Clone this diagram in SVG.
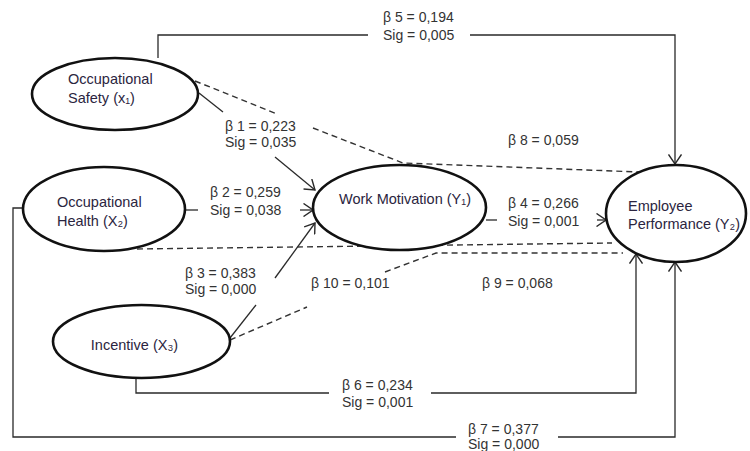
<svg xmlns="http://www.w3.org/2000/svg" width="750" height="451" viewBox="0 0 750 451">
<style>
.c{fill:none;stroke:#2a2a2a;stroke-width:1.3}
.d{fill:none;stroke:#333;stroke-width:1.4;stroke-dasharray:6,4}
.n{fill:#fff;stroke:#111;stroke-width:2.6}
.t{font-family:"Liberation Sans",Arial,sans-serif;font-size:14.5px;fill:#2b2540}
.l{font-family:"Liberation Sans",Arial,sans-serif;font-size:14px;fill:#333}
</style>
<defs>
<marker id="a" markerUnits="userSpaceOnUse" viewBox="0 0 11 14" refX="10" refY="7" markerWidth="11" markerHeight="14" orient="auto">
<path d="M0.5,0.5 L10,7 L0.5,13.5" fill="none" stroke="#2a2a2a" stroke-width="1.4"/>
</marker>
</defs>
<g id="connectors">
<path class="c" d="M158,58 V35 H368"/>
<path class="c" d="M470,35 H675 V164" marker-end="url(#a)"/>
<path class="c" d="M23,208 H13 V437 H456"/>
<path class="c" d="M558,437 H675 V262" marker-end="url(#a)"/>
<path class="c" d="M136,378 V393 H329"/>
<path class="c" d="M431,393 H636 V254" marker-end="url(#a)"/>
<path class="c" d="M486,220 H497"/>
<path class="c" d="M597,220 H606" marker-end="url(#a)"/>
<path class="c" d="M185,210 H198"/>
<path class="c" d="M300,210 H313" marker-end="url(#a)"/>
<path class="c" d="M199,93 L223,112"/>
<path class="c" d="M275,157 L315,190" marker-end="url(#a)"/>
<path class="c" d="M230,338 L256,305"/>
<path class="c" d="M275,278 L315,223" marker-end="url(#a)"/>
<path class="d" d="M195,81 L277,114"/>
<path class="d" d="M313,128 L403,163 L640,172"/>
<path class="d" d="M137,249 L612,243"/>
<path class="d" d="M230,340 L307,307"/>
<path class="d" d="M385,272 L436,253 L623,253"/>
</g>
<g id="safety">
<ellipse class="n" cx="115" cy="94" rx="83" ry="36"/>
<text class="t" x="68" y="84">Occupational</text>
<text class="t" x="68" y="103">Safety (x₁)</text>
</g>
<g id="health">
<ellipse class="n" cx="104" cy="209" rx="81" ry="42"/>
<text class="t" x="57" y="207">Occupational</text>
<text class="t" x="57" y="226">Health (X₂)</text>
</g>
<g id="incentive">
<ellipse class="n" cx="141.5" cy="341.5" rx="88.5" ry="36.5"/>
<text class="t" x="134.5" y="350" text-anchor="middle">Incentive (X₃)</text>
</g>
<g id="motivation">
<ellipse class="n" cx="399.5" cy="207.5" rx="86.5" ry="42.5"/>
<text class="t" x="405" y="204" text-anchor="middle">Work Motivation (Y₁)</text>
</g>
<g id="performance">
<ellipse class="n" cx="676" cy="213.5" rx="70" ry="48.5"/>
<text class="t" x="628" y="211">Employee</text>
<text class="t" x="628" y="229">Performance (Y₂)</text>
</g>
<g id="labels">
<text class="l" x="383" y="22">β 5 = 0,194</text>
<text class="l" x="383" y="40">Sig = 0,005</text>
<text class="l" x="225" y="131">β 1 = 0,223</text>
<text class="l" x="225" y="147">Sig = 0,035</text>
<text class="l" x="508" y="145">β 8 = 0,059</text>
<text class="l" x="210" y="197">β 2 = 0,259</text>
<text class="l" x="210" y="215">Sig = 0,038</text>
<text class="l" x="508" y="208">β 4 = 0,266</text>
<text class="l" x="508" y="226">Sig = 0,001</text>
<text class="l" x="185" y="278">β 3 = 0,383</text>
<text class="l" x="185" y="294">Sig = 0,000</text>
<text class="l" x="311" y="288">β 10 = 0,101</text>
<text class="l" x="482" y="288">β 9 = 0,068</text>
<text class="l" x="342" y="390">β 6 = 0,234</text>
<text class="l" x="342" y="407">Sig = 0,001</text>
<text class="l" x="468" y="434">β 7 = 0,377</text>
<text class="l" x="468" y="449">Sig = 0,000</text>
</g>
</svg>
